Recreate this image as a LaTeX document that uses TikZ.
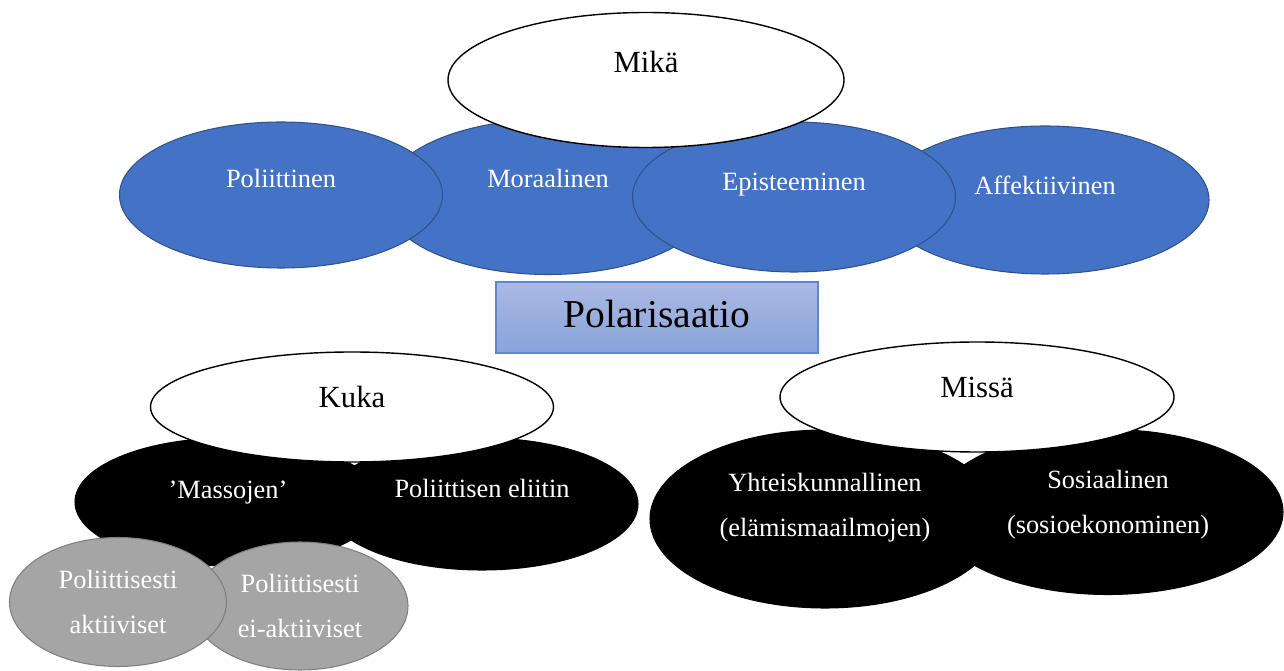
\documentclass[tikz,border=0pt]{standalone}
\usepackage{fontspec}
\setmainfont{Liberation Serif}
\usetikzlibrary{shapes.geometric}
\definecolor{blu}{HTML}{4472C4}
\definecolor{bluline}{HTML}{2F528F}
\definecolor{gry}{HTML}{A5A5A5}
\definecolor{gryline}{HTML}{7F7F7F}
\definecolor{boxtop}{HTML}{AAB9E3}
\definecolor{boxbot}{HTML}{8AA3DA}
\definecolor{boxline}{HTML}{5B87D4}

\begin{document}
\begin{tikzpicture}[x=0.02cm, y=-0.02cm,
					dims/.style 2 args = {minimum width=#1*0.02cm, minimum height=#2*0.02cm},
					oval/.style = {ellipse, inner sep=0pt, align=center, line width=0.6pt},
					blueoval/.style = {oval, fill=blu, draw=bluline, text=white,
						font=\fontsize{15}{25.5}\selectfont},
					blackoval/.style = {oval, fill=black, draw=black, text=white,
						font=\fontsize{15}{25.5}\selectfont},
					greyoval/.style = {oval, fill=gry, draw=gryline, text=white,
						font=\fontsize{15}{25.5}\selectfont},
					whiteoval/.style = {oval, fill=white, draw=black, line width=0.8pt,
						font=\fontsize{17.5}{21}\selectfont},
					polbox/.style = {rectangle, inner sep=0pt, draw=boxline, line width=0.8pt,
					top color=boxtop, bottom color=boxbot, font=\fontsize{22.5}{27}\selectfont}]
	\useasboundingbox (0,0) rectangle (1284,671);
	\node[blueoval, dims={330}{155}, text depth=0.76cm] (moral) at (548,197) {Moraalinen};
	\node[blueoval, dims={328}{148}, text depth=0.6cm] (affect) at (1045,200) {Affektiivinen};
	\node[blueoval, dims={323}{150}, text depth=0.6cm] (epist) at (794,197) {Episteeminen};
	\node[blueoval, dims={323}{146}, text depth=0.68cm] (polit) at (281,195) {Poliittinen};
	\node[whiteoval, dims={396}{135}, text depth=0.72cm] (mika) at (646,80) {Mikä};
	\node[polbox, dims={322}{71}, text depth=0.16cm] (polar) at (657,317.5) {Polarisaatio};
	\node[blackoval, dims={306}{128}, text depth=0.48cm] (massat) at (228,502) {'Massojen'};
	\node[blackoval, dims={312}{132}, text depth=0.64cm] (eliitti) at (482,504) {Poliittisen eliitin};
	\node[greyoval, dims={216}{128}] (eiakt) at (300,606) {Poliittisesti\\ei-aktiiviset};
	\node[greyoval, dims={217}{129}] (akt) at (118,602) {Poliittisesti\\aktiiviset};
	\node[whiteoval, dims={403}{110}, text depth=0.4cm] (kuka) at (352,407) {Kuka};
	\node[blackoval, dims={350}{178}, text depth=0.56cm] (yhteis) at (825,519) {Yhteiskunnallinen\\(elämismaailmojen)};
	\node[blackoval, dims={350}{165}, text depth=0.4cm] (sosiaal) at (1108,512) {Sosiaalinen\\(sosioekonominen)};
	\node[whiteoval, dims={394}{110}, text depth=0.4cm] (missa) at (977,397) {Missä};
\end{tikzpicture}
\end{document}
